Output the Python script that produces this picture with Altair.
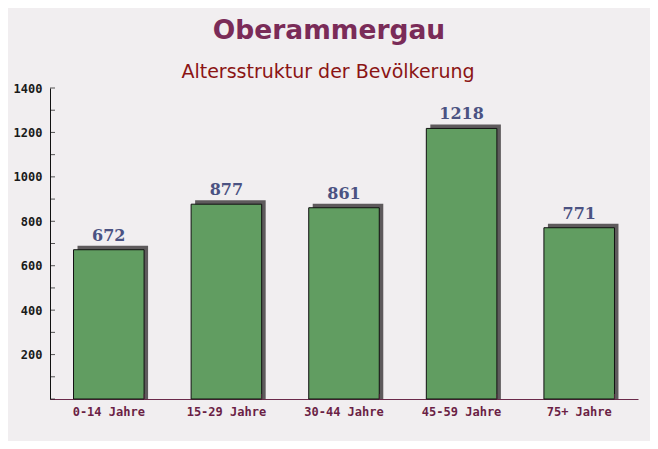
import altair as alt
import pandas as pd

categories = ["0-14 Jahre", "15-29 Jahre", "30-44 Jahre", "45-59 Jahre", "75+ Jahre"]
values = [672, 877, 861, 1218, 771]
y_ticks = list(range(0, 1401, 100))
y_labels = [0, 200, 400, 600, 800, 1000, 1200, 1400]
title_text = "Oberammergau"
subtitle_text = "Altersstruktur der Bevölkerung"

df = pd.DataFrame({"cat": categories, "val": values})
ticks_df = pd.DataFrame({"t": y_ticks})
titles_df = pd.DataFrame({"title": [title_text], "sub": [subtitle_text]})

W, H = 588, 311

xenc = alt.X("cat:N", sort=categories, title=None,
             scale=alt.Scale(paddingInner=0.4, paddingOuter=0.2),
             axis=alt.Axis(labelAngle=0, labelFont="DejaVu Sans Mono", labelFontSize=12,
                           labelFontWeight="bold",
                           labelColor="#6b1f45", tickSize=0, labelPadding=7,
                           domainColor="#6b2a4a", domainWidth=1))
yscale = alt.Scale(domain=[0, 1400], nice=False)
yenc = alt.Y("val:Q", scale=yscale, title=None,
             axis=alt.Axis(values=y_labels, format="d", labelFont="DejaVu Sans Mono",
                           labelFontWeight="bold",
                           labelFontSize=12, labelColor="#1a1a1a", tickSize=0, labelPadding=8,
                           grid=False, domainColor="#111111", domainWidth=1,
                           labelExpr="datum.value == 0 ? '' : datum.label"))

base = alt.Chart(df)

shadow = base.mark_bar(color="#5e5a5c", xOffset=4, yOffset=-4, y2Offset=0).encode(
    x=xenc, y=yenc, y2=alt.datum(0))

bars = base.mark_bar(color="#619d61", stroke="#111111", strokeWidth=1).encode(
    x=xenc, y=yenc, y2=alt.datum(0))

labels = base.mark_text(font="DejaVu Serif", fontWeight="bold", fontSize=16,
                        color="#4b5282", dy=-6, dx=0, baseline="bottom").encode(
    x=xenc, y=yenc, text=alt.Text("val:Q"))

yticks = alt.Chart(ticks_df).mark_tick(color="#111111", size=5, thickness=1, orient="horizontal").encode(
    y=alt.Y("t:Q", scale=yscale), x=alt.value(2.5))

xticks = base.mark_tick(color="#6b2a4a", size=5, thickness=1, orient="vertical").encode(
    x=alt.X("cat:N", sort=categories, bandPosition=1), y=alt.value(H - 2.5))

title = alt.Chart(titles_df).mark_text(font="DejaVu Sans", fontWeight="bold", fontSize=26.5,
                                       color="#7a2b58", align="center", baseline="alphabetic").encode(
    text="title:N", x=alt.value(279), y=alt.value(-49))

subtitle = alt.Chart(titles_df).mark_text(font="DejaVu Sans", fontSize=19,
                                          color="#8b1414", align="center", baseline="alphabetic").encode(
    text="sub:N", x=alt.value(278), y=alt.value(-10))

chart = alt.layer(shadow, bars, labels, yticks, xticks, title, subtitle).properties(
    width=W, height=H,
    background="#f1eef0",
    padding={"left": 42, "top": 80, "right": 12, "bottom": 42},
    autosize=alt.AutoSizeParams(type="none"),
).configure_view(stroke=None)

chart.save("out.html", embed_options={"renderer": "svg", "actions": False})
